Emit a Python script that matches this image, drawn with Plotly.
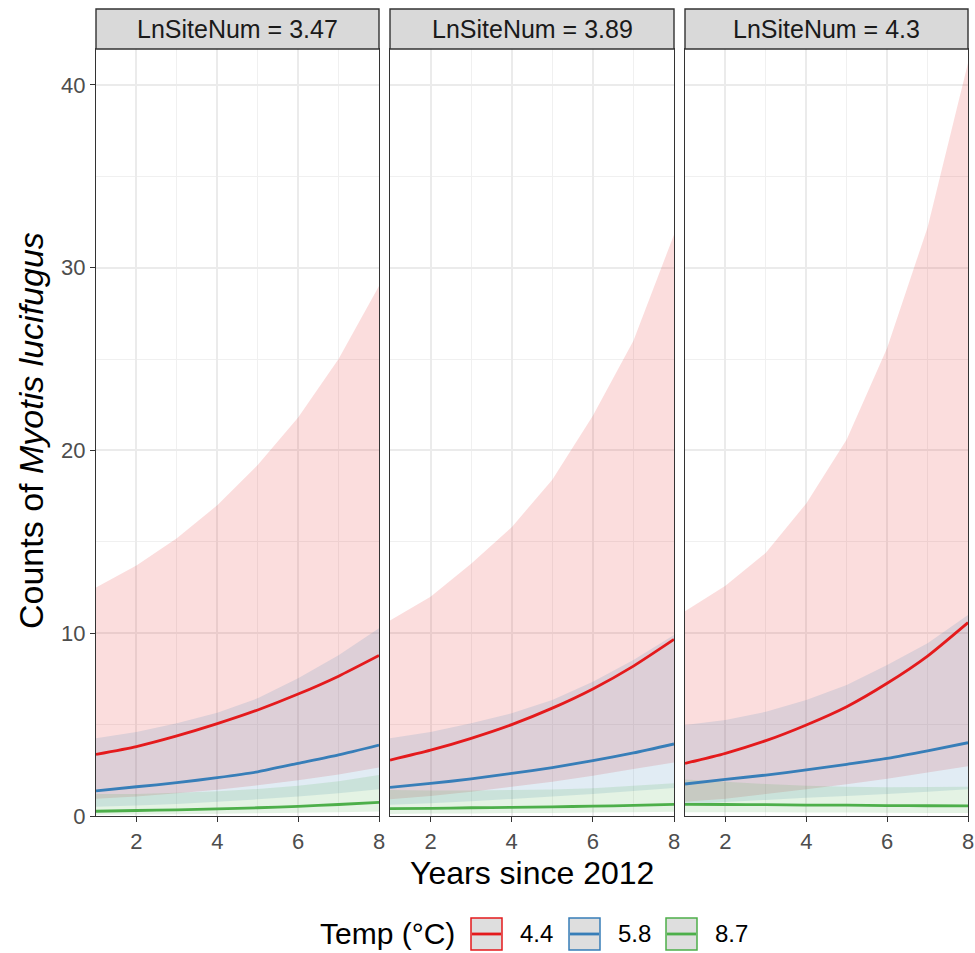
import plotly.graph_objects as go

# ---------------- data ----------------
years = [1, 2, 3, 4, 5, 6, 7, 8]
site_labels = ["LnSiteNum = 3.47", "LnSiteNum = 3.89", "LnSiteNum = 4.3"]
temp_labels = ["4.4", "5.8", "8.7"]

# Panel 1: LnSiteNum = 3.47
red_mean_1 = [3.37, 3.80, 4.38, 5.05, 5.80, 6.67, 7.65, 8.78]
red_lo_1 = [0.95, 1.07, 1.24, 1.44, 1.68, 1.95, 2.27, 2.65]
red_hi_1 = [12.5, 13.7, 15.2, 17.0, 19.2, 21.8, 25.0, 29.0]
blue_mean_1 = [1.37, 1.60, 1.82, 2.10, 2.42, 2.88, 3.34, 3.88]
blue_lo_1 = [0.50, 0.57, 0.66, 0.78, 0.91, 1.06, 1.24, 1.46]
blue_hi_1 = [4.25, 4.60, 5.07, 5.65, 6.44, 7.53, 8.80, 10.27]
green_mean_1 = [0.26, 0.30, 0.34, 0.39, 0.45, 0.53, 0.63, 0.74]
green_lo_1 = [0.07, 0.08, 0.10, 0.12, 0.15, 0.18, 0.21, 0.24]
green_hi_1 = [1.20, 1.20, 1.27, 1.36, 1.48, 1.65, 1.90, 2.24]

# Panel 2: LnSiteNum = 3.89
red_mean_2 = [3.06, 3.60, 4.25, 5.00, 5.90, 6.95, 8.20, 9.66]
red_lo_2 = [0.92, 1.10, 1.33, 1.60, 1.87, 2.20, 2.57, 2.93]
red_hi_2 = [10.7, 12.0, 13.8, 15.8, 18.4, 21.9, 26.0, 31.8]
blue_mean_2 = [1.57, 1.78, 2.03, 2.33, 2.65, 3.03, 3.45, 3.94]
blue_lo_2 = [0.62, 0.70, 0.81, 0.93, 1.06, 1.20, 1.37, 1.53]
blue_hi_2 = [4.25, 4.60, 5.07, 5.62, 6.35, 7.35, 8.53, 9.90]
green_mean_2 = [0.40, 0.42, 0.45, 0.47, 0.50, 0.54, 0.58, 0.64]
green_lo_2 = [0.11, 0.13, 0.14, 0.16, 0.17, 0.19, 0.21, 0.23]
green_hi_2 = [1.42, 1.40, 1.40, 1.42, 1.45, 1.52, 1.65, 1.79]

# Panel 3: LnSiteNum = 4.3
red_mean_3 = [2.88, 3.43, 4.12, 4.98, 5.98, 7.26, 8.75, 10.58]
red_lo_3 = [0.78, 0.95, 1.20, 1.46, 1.74, 2.04, 2.38, 2.72]
red_hi_3 = [11.2, 12.6, 14.4, 17.1, 20.6, 25.6, 32.2, 41.2]
blue_mean_3 = [1.75, 2.00, 2.24, 2.52, 2.83, 3.15, 3.56, 4.01]
blue_lo_3 = [0.61, 0.76, 0.88, 1.00, 1.10, 1.20, 1.33, 1.46]
blue_hi_3 = [4.98, 5.25, 5.70, 6.35, 7.17, 8.26, 9.45, 11.0]
green_mean_3 = [0.64, 0.63, 0.62, 0.60, 0.59, 0.57, 0.56, 0.55]
green_lo_3 = [0.20, 0.20, 0.20, 0.19, 0.19, 0.18, 0.17, 0.16]
green_hi_3 = [2.00, 1.88, 1.75, 1.66, 1.60, 1.57, 1.58, 1.60]

panels = [
    [(red_mean_1, red_lo_1, red_hi_1), (blue_mean_1, blue_lo_1, blue_hi_1), (green_mean_1, green_lo_1, green_hi_1)],
    [(red_mean_2, red_lo_2, red_hi_2), (blue_mean_2, blue_lo_2, blue_hi_2), (green_mean_2, green_lo_2, green_hi_2)],
    [(red_mean_3, red_lo_3, red_hi_3), (blue_mean_3, blue_lo_3, blue_hi_3), (green_mean_3, green_lo_3, green_hi_3)],
]

# ---------------- style ----------------
colors = ["#E41A1C", "#377EB8", "#4DAF4A"]
fills = ["rgba(228,26,28,0.15)", "rgba(55,126,184,0.15)", "rgba(77,175,74,0.15)"]
FONT = "Liberation Sans, Arial, Helvetica, sans-serif"
W, H = 975, 953
ML, MR, MT, MB = 96, 7, 49, 137
PW, PH = W - ML - MR, H - MT - MB

def px_x(p):
    return (p - ML) / PW

def px_y(p):
    return (H - MB - p) / PH

domains = [[px_x(96), px_x(379)], [px_x(390), px_x(674)], [px_x(685), px_x(968)]]

fig = go.Figure()

for i, series in enumerate(panels):
    xa = "x" if i == 0 else f"x{i+1}"
    ya = "y" if i == 0 else f"y{i+1}"
    # ribbons first (like ggplot layer order)
    for j, (m, lo, hi) in enumerate(series):
        fig.add_trace(go.Scatter(
            x=years + years[::-1], y=hi + lo[::-1],
            fill="toself", fillcolor=fills[j], mode="none",
            line=dict(width=0), hoverinfo="skip", showlegend=False,
            xaxis=xa, yaxis=ya))
    for j, (m, lo, hi) in enumerate(series):
        fig.add_trace(go.Scatter(
            x=years, y=m, mode="lines",
            line=dict(color=colors[j], width=2.8, shape="spline", smoothing=0.6),
            name=temp_labels[j], showlegend=False,
            xaxis=xa, yaxis=ya))

axis_common = dict(
    showline=True, mirror=True, linecolor="#333333", linewidth=1.4,
    ticks="outside", ticklen=5, tickwidth=1.4, tickcolor="#333333",
    tickfont=dict(family=FONT, size=22, color="#4D4D4D"),
    gridcolor="#EBEBEB", gridwidth=1.6, zeroline=False, automargin=False,
)

layout = dict(
    width=W, height=H,
    margin=dict(l=ML, r=MR, t=MT, b=MB, autoexpand=False),
    paper_bgcolor="white", plot_bgcolor="white",
    showlegend=False,
    font=dict(family=FONT, color="#000000"),
)

for i in range(3):
    xk = "xaxis" if i == 0 else f"xaxis{i+1}"
    yk = "yaxis" if i == 0 else f"yaxis{i+1}"
    layout[xk] = dict(axis_common, domain=domains[i], range=[1, 8],
                      tickmode="array", tickvals=[2, 4, 6, 8],
                      minor=dict(tickmode="array", tickvals=[1, 3, 5, 7],
                                 showgrid=True, gridcolor="#F0F0F0", gridwidth=1.2, ticks=""),
                      anchor="y" if i == 0 else f"y{i+1}")
    layout[yk] = dict(axis_common, domain=[0, 1], range=[0, 41.96],
                      tickmode="array", tickvals=[0, 10, 20, 30, 40],
                      showticklabels=(i == 0),
                      ticks="outside" if i == 0 else "",
                      minor=dict(tickmode="array", tickvals=[5, 15, 25, 35],
                                 showgrid=True, gridcolor="#F0F0F0", gridwidth=1.2, ticks=""),
                      anchor="x" if i == 0 else f"x{i+1}")
    if i > 0:
        layout[yk]["matches"] = "y"

fig.update_layout(**layout)

# facet strips
strip_h = 40 / PH
for i in range(3):
    xr = "x" if i == 0 else f"x{i+1}"
    fig.add_shape(type="rect", xref=f"{xr} domain", yref="paper",
                  x0=0, x1=1, y0=1, y1=1 + strip_h,
                  fillcolor="#D9D9D9", line=dict(color="#333333", width=1.4), layer="above")
    fig.add_annotation(xref=f"{xr} domain", yref="paper", x=0.5, y=1 + strip_h / 2,
                       text=site_labels[i], showarrow=False,
                       font=dict(family=FONT, size=25, color="#1A1A1A"),
                       xanchor="center", yanchor="middle")

# axis titles
fig.add_annotation(xref="paper", yref="paper", x=0.5, y=px_y(873),
                   text="Years since 2012", showarrow=False,
                   font=dict(family=FONT, size=32, color="#000000"),
                   xanchor="center", yanchor="middle")
fig.add_annotation(xref="paper", yref="paper", x=px_x(31), y=px_y(431),
                   text="Counts of <i>Myotis lucifugus</i>", showarrow=False, textangle=-90,
                   font=dict(family=FONT, size=34, color="#000000"),
                   xanchor="center", yanchor="middle")

# legend (manual, ggplot-style keys)
fig.add_annotation(xref="paper", yref="paper", x=px_x(457), y=px_y(934),
                   text="Temp (°C)", showarrow=False,
                   font=dict(family=FONT, size=30, color="#000000"),
                   xanchor="right", yanchor="middle")
key_left = [471, 569, 666]
for j in range(3):
    x0 = key_left[j]
    fig.add_shape(type="rect", xref="paper", yref="paper",
                  x0=px_x(x0), x1=px_x(x0 + 31), y0=px_y(950), y1=px_y(918),
                  fillcolor="#DEDEDE", line=dict(color=colors[j], width=1.5))
    fig.add_shape(type="line", xref="paper", yref="paper",
                  x0=px_x(x0 + 1), x1=px_x(x0 + 30), y0=px_y(934), y1=px_y(934),
                  line=dict(color=colors[j], width=2.8))
    fig.add_annotation(xref="paper", yref="paper", x=px_x(x0 + 47), y=px_y(934),
                       text=temp_labels[j], showarrow=False,
                       font=dict(family=FONT, size=24, color="#000000"),
                       xanchor="left", yanchor="middle")

fig.write_html("out.html")
